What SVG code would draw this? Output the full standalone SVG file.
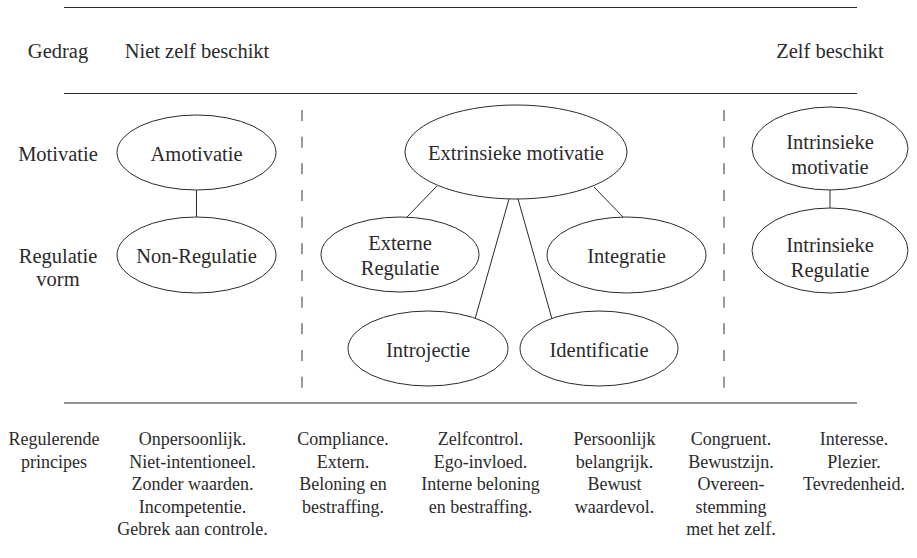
<svg xmlns="http://www.w3.org/2000/svg" width="917" height="558" viewBox="0 0 917 558">
  <style>
    .bg { fill: #ffffff; }
    .rule { stroke: #2a2a2a; stroke-width: 1.2; fill: none; }
    .rule-low { stroke: #6e6e6e; stroke-width: 1.6; fill: none; }
    .divider { stroke: #555555; stroke-width: 1.2; stroke-dasharray: 11 15.67; fill: none; }
    .node ellipse { fill: #ffffff; stroke: #2a2a2a; stroke-width: 1; }
    .edge { stroke: #2a2a2a; stroke-width: 1; fill: none; }
    text { font-family: "Liberation Serif", "Times New Roman", serif; fill: #2b2b2b; text-anchor: middle; }
    .lbl { font-size: 20.5px; }
    .note { font-size: 18px; }
  </style>

  <rect class="bg" x="0" y="0" width="917" height="558"/>

  <!-- table rules -->
  <g id="rules">
    <line class="rule" x1="64" y1="7.5" x2="857" y2="7.5"/>
    <line class="rule" x1="64" y1="93.5" x2="857" y2="93.5"/>
    <line class="rule-low" x1="64" y1="403" x2="857" y2="403"/>
    <line class="divider" x1="302" y1="110" x2="302" y2="390"/>
    <line class="divider" x1="724" y1="110" x2="724" y2="390"/>
  </g>

  <!-- header row -->
  <g id="header">
    <text class="lbl" x="58" y="58">Gedrag</text>
    <text class="lbl" x="197" y="58">Niet zelf beschikt</text>
    <text class="lbl" x="830" y="58">Zelf beschikt</text>
  </g>

  <!-- row labels -->
  <g id="row-labels">
    <text class="lbl" x="58" y="161">Motivatie</text>
    <text class="lbl" x="58" y="263">Regulatie</text>
    <text class="lbl" x="58" y="286">vorm</text>
  </g>

  <!-- connectors -->
  <g id="connectors">
    <line class="edge" x1="196.5" y1="190" x2="196.5" y2="217"/>
    <line class="edge" x1="437" y1="186" x2="406" y2="218"/>
    <line class="edge" x1="594" y1="187" x2="624" y2="218"/>
    <line class="edge" x1="509" y1="199" x2="475" y2="319"/>
    <line class="edge" x1="518" y1="199" x2="552" y2="319"/>
    <line class="edge" x1="830" y1="190" x2="830" y2="208"/>
  </g>

  <!-- nodes -->
  <g id="amotivatie" class="node">
    <ellipse cx="196.5" cy="152.5" rx="79.5" ry="37.5"/>
    <text class="lbl" x="196.5" y="161">Amotivatie</text>
  </g>
  <g id="non-regulatie" class="node">
    <ellipse cx="196.5" cy="255" rx="79.5" ry="38"/>
    <text class="lbl" x="196.5" y="263">Non-Regulatie</text>
  </g>
  <g id="extrinsieke-motivatie" class="node">
    <ellipse cx="516" cy="152" rx="111" ry="47"/>
    <text class="lbl" x="516" y="160">Extrinsieke motivatie</text>
  </g>
  <g id="externe-regulatie" class="node">
    <ellipse cx="400" cy="254.5" rx="79" ry="37.5"/>
    <text class="lbl" x="400" y="250">Externe</text>
    <text class="lbl" x="400" y="275">Regulatie</text>
  </g>
  <g id="integratie" class="node">
    <ellipse cx="626.5" cy="255" rx="79.5" ry="38"/>
    <text class="lbl" x="626.5" y="263">Integratie</text>
  </g>
  <g id="introjectie" class="node">
    <ellipse cx="428" cy="348.5" rx="80" ry="37.5"/>
    <text class="lbl" x="428" y="357">Introjectie</text>
  </g>
  <g id="identificatie" class="node">
    <ellipse cx="599" cy="348.5" rx="79" ry="37.5"/>
    <text class="lbl" x="599" y="357">Identificatie</text>
  </g>
  <g id="intrinsieke-motivatie" class="node">
    <ellipse cx="830" cy="148.5" rx="78" ry="41.5"/>
    <text class="lbl" x="830" y="149">Intrinsieke</text>
    <text class="lbl" x="830" y="174">motivatie</text>
  </g>
  <g id="intrinsieke-regulatie" class="node">
    <ellipse cx="830" cy="250.5" rx="78" ry="42.5"/>
    <text class="lbl" x="830" y="252">Intrinsieke</text>
    <text class="lbl" x="830" y="277">Regulatie</text>
  </g>

  <!-- regulating principles row -->
  <g id="principes">
    <text class="note" x="54" y="445">Regulerende</text>
    <text class="note" x="54" y="467.5">principes</text>

    <text class="note" x="192.5" y="445">Onpersoonlijk.</text>
    <text class="note" x="192.5" y="467.5">Niet-intentioneel.</text>
    <text class="note" x="192.5" y="490">Zonder waarden.</text>
    <text class="note" x="192.5" y="512.5">Incompetentie.</text>
    <text class="note" x="192.5" y="535">Gebrek aan controle.</text>

    <text class="note" x="343" y="445">Compliance.</text>
    <text class="note" x="343" y="467.5">Extern.</text>
    <text class="note" x="343" y="490">Beloning en</text>
    <text class="note" x="343" y="512.5">bestraffing.</text>

    <text class="note" x="480.5" y="445">Zelfcontrol.</text>
    <text class="note" x="480.5" y="467.5">Ego-invloed.</text>
    <text class="note" x="480.5" y="490">Interne beloning</text>
    <text class="note" x="480.5" y="512.5">en bestraffing.</text>

    <text class="note" x="614.5" y="445">Persoonlijk</text>
    <text class="note" x="614.5" y="467.5">belangrijk.</text>
    <text class="note" x="614.5" y="490">Bewust</text>
    <text class="note" x="614.5" y="512.5">waardevol.</text>

    <text class="note" x="731" y="445">Congruent.</text>
    <text class="note" x="731" y="467.5">Bewustzijn.</text>
    <text class="note" x="731" y="490">Overeen-</text>
    <text class="note" x="731" y="512.5">stemming</text>
    <text class="note" x="731" y="535">met het zelf.</text>

    <text class="note" x="854" y="445">Interesse.</text>
    <text class="note" x="854" y="467.5">Plezier.</text>
    <text class="note" x="854" y="490">Tevredenheid.</text>
  </g>
</svg>
